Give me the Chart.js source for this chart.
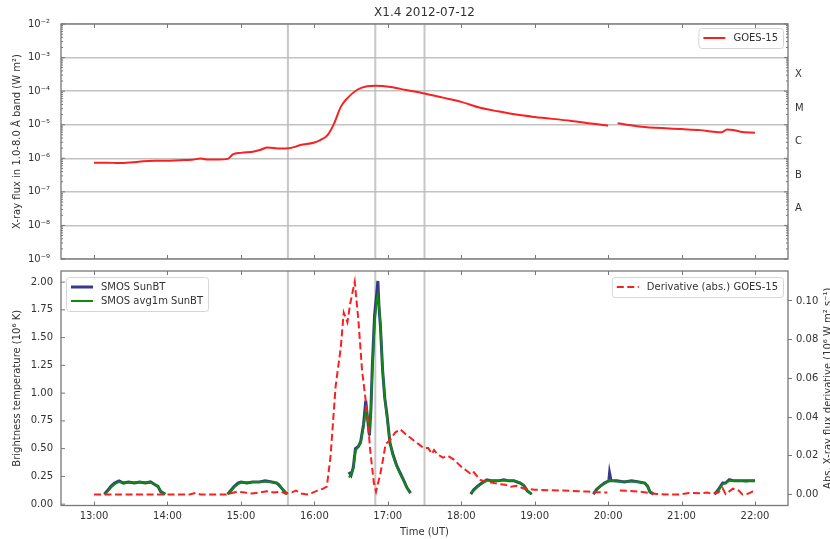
<!DOCTYPE html>
<html>
<head>
<meta charset="utf-8">
<script src="https://cdn.jsdelivr.net/npm/chart.js@4/dist/chart.umd.min.js"></script>
<style>
  html, body { margin: 0; padding: 0; background: #fff; }
  #wrap { position: relative; width: 830px; height: 539px; }
  canvas { position: absolute; left: 0; }
  #top { top: 0; }
  #bottom { top: 265px; }
</style>
</head>
<body>
<div id="wrap">
  <canvas id="top" width="830" height="265"></canvas>
  <canvas id="bottom" width="830" height="274"></canvas>
</div>
<script>
// ---- data (time in decimal hours UT) ----
const hourTicks = [13, 14, 15, 16, 17, 18, 19, 20, 21, 22];
const hourLabels = ['13:00', '14:00', '15:00', '16:00', '17:00', '18:00', '19:00', '20:00', '21:00', '22:00'];
const markerTimes = [15.64, 16.83, 17.50];

const decadeTicks = [1e-9, 1e-8, 1e-7, 1e-6, 1e-5, 1e-4, 1e-3, 1e-2];
const decadeLabels = ['10⁻⁹', '10⁻⁸', '10⁻⁷', '10⁻⁶', '10⁻⁵', '10⁻⁴', '10⁻³', '10⁻²'];
const classTicks = [3.16e-8, 3.16e-7, 3.16e-6, 3.16e-5, 3.16e-4];
const classLabels = ['A', 'B', 'C', 'M', 'X'];
const tempTicks = [0, 0.25, 0.5, 0.75, 1.0, 1.25, 1.5, 1.75, 2.0];
const derivTicks = [0, 0.02, 0.04, 0.06, 0.08, 0.10];

const goesTime = [13.00, 13.17, 13.33, 13.50, 13.67, 13.83, 14.00, 14.17, 14.33, 14.45, 14.55, 14.70, 14.82, 14.89,
  15.00, 15.18, 15.27, 15.36, 15.54, 15.65, 15.72, 15.81, 15.99, 16.08, 16.18, 16.27, 16.36, 16.45, 16.59, 16.72,
  16.83, 17.04, 17.25, 17.48, 17.75, 18.00, 18.26, 18.50, 18.75, 19.00, 19.50, 20.00, 20.05, 20.13, 20.50, 21.00,
  21.25, 21.50, 21.55, 21.62, 21.70, 21.80, 22.00];
const goesFlux = [7.4e-7, 7.4e-7, 7.2e-7, 7.5e-7, 8.1e-7, 8.4e-7, 8.5e-7, 8.8e-7, 9.0e-7, 9.9e-7, 9.2e-7, 9.2e-7, 9.6e-7, 1.3e-6,
  1.45e-6, 1.6e-6, 1.8e-6, 2.1e-6, 1.95e-6, 2.0e-6, 2.15e-6, 2.5e-6, 2.9e-6, 3.5e-6, 4.9e-6, 1.1e-5, 3.4e-5, 6.2e-5, 1.12e-4, 1.4e-4,
  1.45e-4, 1.33e-4, 1.08e-4, 8.7e-5, 6.4e-5, 4.8e-5, 3.2e-5, 2.5e-5, 2.0e-5, 1.7e-5, 1.3e-5, 9.3e-6, null, 1.1e-5, 8.5e-6, 7.4e-6,
  6.9e-6, 6.0e-6, 6.0e-6, 7.2e-6, 7.0e-6, 6.2e-6, 5.8e-6];

const smosTime = [
  13.14, 13.18, 13.23, 13.28, 13.34, 13.40, 13.47, 13.55, 13.62, 13.70, 13.77, 13.82, 13.87, 13.91, 13.97, 14.4,
  14.82, 14.87, 14.91, 14.96, 15.00, 15.08, 15.16, 15.25, 15.33, 15.42, 15.49, 15.52, 15.56, 15.60, 15.63, 16.0,
  16.47, 16.50, 16.53, 16.56, 16.60, 16.63, 16.67, 16.70, 16.72, 16.75, 16.77, 16.79, 16.82, 16.85, 16.865, 16.88,
  16.90, 16.93, 16.96, 16.99, 17.03, 17.07, 17.12, 17.17, 17.22, 17.26, 17.31, 17.7,
  18.13, 18.17, 18.22, 18.28, 18.35, 18.42, 18.50, 18.58, 18.65, 18.72, 18.80, 18.85, 18.90, 18.96, 19.4,
  19.80, 19.84, 19.89, 19.95, 20.01, 20.02, 20.04, 20.12, 20.22, 20.32, 20.42, 20.50, 20.54, 20.57, 20.62, 21.0,
  21.45, 21.50, 21.56, 21.60, 21.65, 21.72, 21.80, 21.88, 21.95, 22.00];
const smosBT = [
  0.09, 0.12, 0.16, 0.19, 0.21, 0.19, 0.20, 0.19, 0.20, 0.19, 0.20, 0.18, 0.16, 0.11, 0.09, null,
  0.09, 0.13, 0.16, 0.19, 0.20, 0.19, 0.20, 0.20, 0.21, 0.20, 0.19, 0.17, 0.14, 0.11, 0.09, null,
  0.29, 0.26, 0.33, 0.50, 0.52, 0.56, 0.72, 0.93, 0.80, 0.62, 0.85, 1.25, 1.70, 1.90, 2.01, 1.78,
  1.60, 1.20, 0.95, 0.80, 0.55, 0.45, 0.35, 0.28, 0.21, 0.15, 0.10, null,
  0.09, 0.13, 0.16, 0.19, 0.22, 0.21, 0.21, 0.22, 0.21, 0.21, 0.19, 0.17, 0.12, 0.09, null,
  0.09, 0.13, 0.16, 0.19, 0.21, 0.28, 0.21, 0.21, 0.20, 0.21, 0.20, 0.19, 0.16, 0.11, 0.09, null,
  0.09, 0.13, 0.19, 0.19, 0.22, 0.21, 0.21, 0.21, 0.21, 0.21];
const smosAvg = [
  0.09, 0.11, 0.15, 0.18, 0.20, 0.195, 0.195, 0.195, 0.20, 0.195, 0.195, 0.18, 0.16, 0.12, 0.09, null,
  0.09, 0.12, 0.155, 0.18, 0.195, 0.195, 0.20, 0.20, 0.205, 0.20, 0.19, 0.18, 0.14, 0.11, 0.09, null,
  0.24, 0.27, 0.32, 0.48, 0.52, 0.55, 0.70, 0.84, 0.80, 0.66, 0.85, 1.20, 1.62, 1.84, 1.88, 1.80,
  1.62, 1.20, 0.95, 0.78, 0.56, 0.44, 0.34, 0.27, 0.21, 0.15, 0.10, null,
  0.10, 0.12, 0.155, 0.185, 0.215, 0.21, 0.21, 0.215, 0.21, 0.21, 0.195, 0.17, 0.12, 0.09, null,
  0.09, 0.125, 0.16, 0.185, 0.21, 0.22, 0.21, 0.205, 0.205, 0.205, 0.20, 0.19, 0.16, 0.11, 0.10, null,
  0.10, 0.12, 0.18, 0.19, 0.21, 0.21, 0.21, 0.205, 0.21, 0.21];

const derivTime = [13.00, 13.50, 14.00, 14.30, 14.38, 14.45, 14.80, 14.85, 14.95, 15.05, 15.15, 15.25, 15.35, 15.45, 15.55,
  15.60, 15.70, 15.75, 15.82, 15.90, 15.97, 16.04, 16.12, 16.17, 16.22, 16.29, 16.36, 16.40, 16.45, 16.49, 16.55,
  16.60, 16.65, 16.72, 16.76, 16.81, 16.84, 16.90, 16.93, 16.97, 17.03, 17.10, 17.17, 17.25, 17.35, 17.42, 17.49,
  17.55, 17.60, 17.63, 17.67, 17.75, 17.82, 17.90, 18.00, 18.12, 18.16, 18.26, 18.36, 18.50, 18.60, 18.68, 18.75,
  18.86, 19.00, 19.20, 19.40, 19.60, 19.72, 19.85, 19.99, 20.06, 20.16, 20.30, 20.43, 20.55, 20.66, 20.80, 20.98,
  21.10, 21.25, 21.35, 21.42, 21.50, 21.56, 21.60, 21.70, 21.78, 21.83, 21.90, 21.97, 22.00];
const derivValue = [0.0, 0.0, 0.0, 0.0, 0.0008, 0.0, 0.0, 0.0005, 0.0015, 0.001, 0.0005, 0.001, 0.0017, 0.001, 0.0015,
  0.0005, 0.0012, 0.002, 0.0005, 0.0, 0.0008, 0.002, 0.003, 0.004, 0.0195, 0.056, 0.076, 0.094, 0.089, 0.099, 0.110,
  0.090, 0.064, 0.042, 0.023, 0.006, 0.0015, 0.011, 0.017, 0.026, 0.028, 0.032, 0.0337, 0.031, 0.028, 0.026, 0.024,
  0.024, 0.021, 0.023, 0.021, 0.019, 0.020, 0.018, 0.0144, 0.011, 0.012, 0.0075, 0.0065, 0.0055, 0.005, 0.004, 0.0045,
  0.003, 0.0025, 0.0022, 0.002, 0.0017, 0.0015, 0.0012, 0.001, null, 0.002, 0.0018, 0.0015, 0.0008, 0.0003, 0.0, 0.0,
  0.0008, 0.0006, 0.001, 0.0003, 0.001, 0.0032, 0.0002, 0.003, 0.002, 0.0, 0.0003, 0.0015, 0.0015];

const pairs = (xs, ys) => xs.map((t, i) => ({ x: t, y: ys[i] }));

Chart.defaults.font.family = '"DejaVu Sans", sans-serif';
Chart.defaults.font.size = 10;
Chart.defaults.color = '#333';

const spine = '#777';

// fixed axis width, no extra label padding pushing the plot area
const fixWidth = w => s => { s.width = w; s.paddingTop = 0; s.paddingBottom = 0; };

// marker lines, inward ticks, frame and extra titles
const decor = {
  id: 'decor',
  beforeDatasetsDraw(chart) {
    const { ctx, chartArea: a, scales: { x } } = chart;
    ctx.save();
    ctx.strokeStyle = 'rgba(185,185,185,0.8)';
    ctx.lineWidth = 2;
    markerTimes.forEach(t => {
      const px = x.getPixelForValue(t);
      ctx.beginPath(); ctx.moveTo(px, a.top); ctx.lineTo(px, a.bottom); ctx.stroke();
    });
    ctx.restore();
  },
  afterDraw(chart, args, opts) {
    const { ctx, chartArea: a, scales } = chart;
    const line = (x1, y1, x2, y2) => { ctx.beginPath(); ctx.moveTo(x1, y1); ctx.lineTo(x2, y2); ctx.stroke(); };
    ctx.save();
    ctx.strokeStyle = spine;
    ctx.lineWidth = 1;
    hourTicks.forEach(t => {
      const px = Math.round(scales.x.getPixelForValue(t)) + 0.5;
      line(px, a.bottom, px, a.bottom - 4);
      line(px, a.top, px, a.top + 4);
    });
    scales.y.ticks.forEach(tk => {
      const py = scales.y.getPixelForValue(tk.value);
      line(a.left, py, a.left + 4, py);
      if (opts.log) line(a.right, py, a.right - 4, py);
    });
    if (opts.log) {
      for (let d = 0; d < decadeTicks.length - 1; d++) {
        for (let k = 2; k < 10; k++) {
          const py = scales.y.getPixelForValue(decadeTicks[d] * k);
          line(a.left, py, a.left + 2, py);
          line(a.right, py, a.right - 2, py);
        }
      }
    }
    ctx.lineWidth = 1.3;
    ctx.strokeRect(a.left, a.top, a.right - a.left, a.bottom - a.top);

    ctx.fillStyle = '#333';
    if (opts.title) {
      ctx.font = '12px "DejaVu Sans"';
      ctx.textAlign = 'center';
      ctx.textBaseline = 'middle';
      ctx.fillText(opts.title, (a.left + a.right) / 2, 13);
    }
    if (opts.rightTitle) {
      ctx.font = '10px "DejaVu Sans"';
      ctx.translate(831, (a.top + a.bottom) / 2);
      ctx.rotate(-Math.PI / 2);
      ctx.textAlign = 'center';
      ctx.textBaseline = 'alphabetic';
      ctx.fillText(opts.rightTitle, 0, 0);
    }
    ctx.restore();
  }
};

// matplotlib-like boxed legends, one or more per chart
const boxLegend = {
  id: 'boxLegend',
  afterDraw(chart, args, opts) {
    const { ctx, chartArea: a } = chart;
    ctx.save();
    ctx.font = '10px "DejaVu Sans"';
    (opts.boxes || []).forEach(box => {
      const sets = box.sets.map(i => chart.data.datasets[i]);
      const tw = Math.max(...sets.map(d => ctx.measureText(d.label).width));
      const w = 40 + tw, h = 6 + 14 * sets.length;
      const bx = box.side === 'left' ? a.left + 5 : a.right - 5 - w;
      const by = a.top + box.top;
      ctx.beginPath();
      ctx.roundRect(bx + 0.5, by + 0.5, w, h, 3);
      ctx.fillStyle = 'rgba(255,255,255,0.85)';
      ctx.fill();
      ctx.strokeStyle = '#d6d6d6';
      ctx.lineWidth = 1;
      ctx.setLineDash([]);
      ctx.stroke();
      sets.forEach((d, i) => {
        const ly = by + 10 + 14 * i;
        ctx.strokeStyle = d.borderColor;
        ctx.lineWidth = d.borderWidth;
        ctx.setLineDash(d.borderDash || []);
        ctx.beginPath(); ctx.moveTo(bx + 5, ly); ctx.lineTo(bx + 27, ly); ctx.stroke();
        ctx.setLineDash([]);
        ctx.fillStyle = '#333';
        ctx.textAlign = 'left';
        ctx.textBaseline = 'middle';
        ctx.fillText(d.label, bx + 35, ly);
      });
    });
    ctx.restore();
  }
};

const xScale = (showLabels) => ({
  type: 'linear',
  min: 12.55,
  max: 22.45,
  display: showLabels,
  afterBuildTicks: s => { s.ticks = hourTicks.map(v => ({ value: v })); },
  ticks: { callback: (v, i) => hourLabels[i], padding: 5, maxRotation: 0, autoSkip: false },
  grid: { display: false, drawTicks: false },
  border: { display: false },
  title: { display: showLabels, text: 'Time (UT)', padding: { top: 0, bottom: 1 } },
  afterFit: s => { s.height = showLabels ? 33.5 : 0; s.paddingLeft = 0; s.paddingRight = 0; }
});

new Chart(document.getElementById('top'), {
  type: 'line',
  data: {
    datasets: [{
      label: 'GOES-15',
      data: pairs(goesTime, goesFlux),
      borderColor: '#fa2020',
      borderWidth: 2,
      pointRadius: 0,
      cubicInterpolationMode: 'monotone',
      spanGaps: false
    }]
  },
  options: {
    responsive: false,
    animation: false,
    devicePixelRatio: 1,
    layout: { padding: { top: 24, bottom: 6, left: 0, right: 0 } },
    scales: {
      x: xScale(false),
      y: {
        type: 'logarithmic',
        position: 'left',
        min: 1e-9,
        max: 1e-2,
        afterBuildTicks: s => { s.ticks = decadeTicks.map(v => ({ value: v })); },
        ticks: { callback: (v, i) => decadeLabels[i], padding: 11, autoSkip: false },
        grid: { color: '#c2c2c2', lineWidth: 1.5, drawTicks: false },
        border: { display: false },
        title: { display: true, text: 'X-ray flux in 1.0-8.0 Å band (W m²)', padding: { top: 11.5 } },
        afterFit: fixWidth(61)
      },
      y2: {
        type: 'logarithmic',
        position: 'right',
        min: 1e-9,
        max: 1e-2,
        afterBuildTicks: s => { s.ticks = classTicks.map(v => ({ value: v })); },
        ticks: { callback: (v, i) => classLabels[i], padding: 7, autoSkip: false },
        grid: { display: false, drawTicks: false },
        border: { display: false },
        afterFit: fixWidth(42)
      }
    },
    plugins: {
      legend: { display: false },
      tooltip: { enabled: false },
      decor: { title: 'X1.4 2012-07-12', log: true },
      boxLegend: { boxes: [{ side: 'right', top: 4, sets: [0] }] }
    }
  },
  plugins: [decor, boxLegend]
});

new Chart(document.getElementById('bottom'), {
  type: 'line',
  data: {
    datasets: [
      {
        label: 'Derivative (abs.) GOES-15',
        data: pairs(derivTime, derivValue),
        yAxisID: 'y2',
        borderColor: '#fa2020',
        borderWidth: 2,
        borderDash: [7, 3.5],
        pointRadius: 0,
        tension: 0,
        spanGaps: false,
        order: 0
      },
      {
        label: 'SMOS avg1m SunBT',
        data: pairs(smosTime, smosAvg),
        yAxisID: 'y',
        borderColor: '#108a10',
        borderWidth: 2,
        pointRadius: 0,
        tension: 0,
        spanGaps: false,
        order: 1
      },
      {
        label: 'SMOS SunBT',
        data: pairs(smosTime, smosBT),
        yAxisID: 'y',
        borderColor: 'rgba(35,35,125,0.9)',
        borderWidth: 3,
        pointRadius: 0,
        tension: 0,
        spanGaps: false,
        order: 2
      }
    ]
  },
  options: {
    responsive: false,
    animation: false,
    devicePixelRatio: 1,
    layout: { padding: { top: 6, bottom: 0, left: 0, right: 0 } },
    scales: {
      x: xScale(true),
      y: {
        type: 'linear',
        position: 'left',
        min: -0.012,
        max: 2.1,
        afterBuildTicks: s => { s.ticks = tempTicks.map(v => ({ value: v })); },
        ticks: { callback: v => v.toFixed(2), padding: 8, autoSkip: false },
        grid: { display: false, drawTicks: false },
        border: { display: false },
        title: { display: true, text: 'Brightness temperature (10⁶ K)', padding: { top: 11.5 } },
        afterFit: fixWidth(61)
      },
      y2: {
        type: 'linear',
        position: 'right',
        min: -0.0057,
        max: 0.1155,
        afterBuildTicks: s => { s.ticks = derivTicks.map(v => ({ value: v })); },
        ticks: { callback: v => v.toFixed(2), padding: 4, autoSkip: false },
        grid: { display: true, drawOnChartArea: false, drawTicks: true, tickLength: 4, color: spine },
        border: { display: false },
        afterFit: fixWidth(42)
      }
    },
    plugins: {
      legend: { display: false },
      tooltip: { enabled: false },
      decor: { rightTitle: 'Abs. X-ray flux derivative (10⁶ W m² s⁻¹)' },
      boxLegend: { boxes: [{ side: 'left', top: 6, sets: [2, 1] }, { side: 'right', top: 6, sets: [0] }] }
    }
  },
  plugins: [decor, boxLegend]
});
</script>
</body>
</html>
